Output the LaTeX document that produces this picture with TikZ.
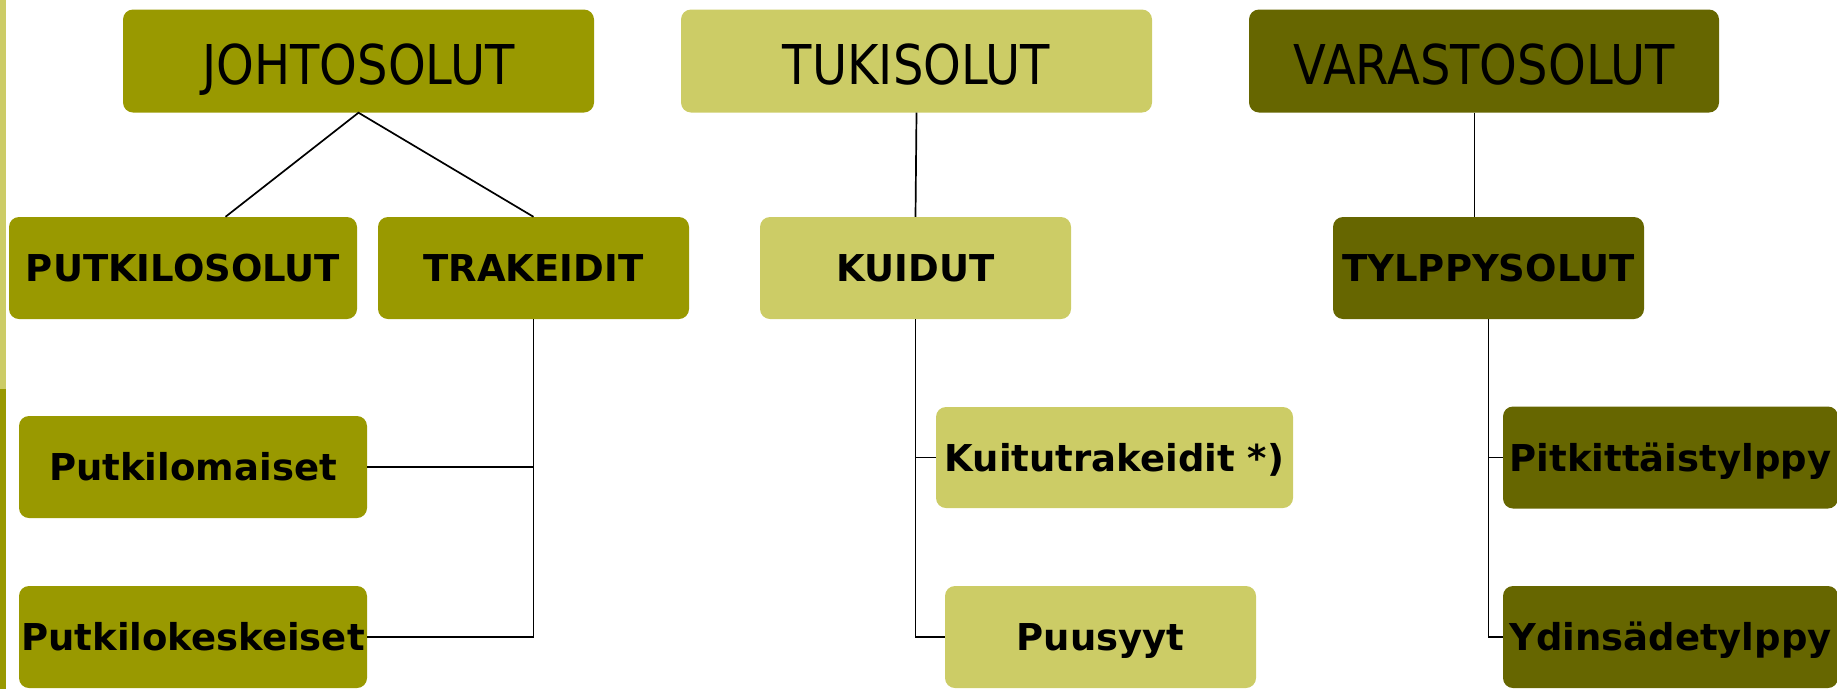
\documentclass[tikz,border=0pt]{standalone}
\usepackage{fontspec}
\setmainfont{DejaVu Sans}
\definecolor{olive}{HTML}{999900}
\definecolor{lightolive}{HTML}{CCCC66}
\definecolor{darkolive}{HTML}{666600}
\newcommand{\toplabel}[1]{\scalebox{0.98}[1.12]{#1}}
\begin{document}
\begin{tikzpicture}[x=1pt,y=-1pt,
  box/.style={rounded corners=10pt,inner sep=0pt,align=center,text=black},
  topbox/.style={box,minimum height=103pt,text height=46pt,text depth=0pt,font=\fontsize{49}{55}\selectfont},
  subbox/.style={box,minimum height=102pt,text height=27pt,text depth=0pt,font=\fontsize{37}{42}\selectfont\bfseries},
  link/.style={draw=black,line width=1.7pt}]
\useasboundingbox (0,0) rectangle (1837,689);
\begin{scope}
\clip (0,0) rectangle (1837,689);
% left edge bar
\fill[lightolive] (0,0) rectangle (6,389);
\fill[olive] (0,389) rectangle (6,689);
% top level
\node[topbox,fill=olive,minimum width=471pt] (johto) at (358.5,61) {\toplabel{JOHTOSOLUT}};
\node[topbox,fill=lightolive,minimum width=471pt] (tuki) at (916.5,61) {\toplabel{TUKISOLUT}};
\node[topbox,fill=darkolive,minimum width=470pt] (vara) at (1484,61) {\toplabel{VARASTOSOLUT}};
% second level
\node[subbox,fill=olive,minimum width=348pt] (putk) at (183,268) {PUTKILOSOLUT};
\node[subbox,fill=olive,minimum width=311pt] (trak) at (533.5,268) {TRAKEIDIT};
\node[subbox,fill=lightolive,minimum width=311pt] (kuid) at (915.5,268) {KUIDUT};
\node[subbox,fill=darkolive,minimum width=311pt] (tylp) at (1488.5,268) {TYLPPYSOLUT};
% third level
\node[subbox,fill=olive,minimum width=348pt] (pmai) at (193,467) {Putkilomaiset};
\node[subbox,fill=olive,minimum width=348pt] (pkes) at (193,637) {Putkilokeskeiset};
\node[subbox,fill=lightolive,minimum width=357pt,minimum height=101pt] (kuit) at (1114.5,457.5) {Kuitutrakeidit *)};
\node[subbox,fill=lightolive,minimum width=311pt] (puus) at (1100.5,637) {Puusyyt};
\node[subbox,fill=darkolive,minimum width=335pt] (pitk) at (1670.5,457.5) {Pitkittäistylppy};
\node[subbox,fill=darkolive,minimum width=335pt] (ydin) at (1670.5,637) {Ydinsädetylppy};
% connectors
\draw[link] ([xshift=42.5pt]putk.north) -- (johto.south) -- (trak.north);
\draw[link] (tuki.south) -- (kuid.north);
\draw[link] ([xshift=-9.5pt]vara.south) -- ([xshift=-14pt]tylp.north);
\draw[link] (trak.south) |- (pkes.east);
\draw[link] (pmai.east) -- (pmai.east -| trak.south);
\draw[link] (kuid.south) |- (puus.west);
\draw[link] (kuit.west) -- (kuit.west -| kuid.south);
\draw[link] (tylp.south) |- (ydin.west);
\draw[link] (pitk.west) -- (pitk.west -| tylp.south);
\end{scope}
\end{tikzpicture}
\end{document}
